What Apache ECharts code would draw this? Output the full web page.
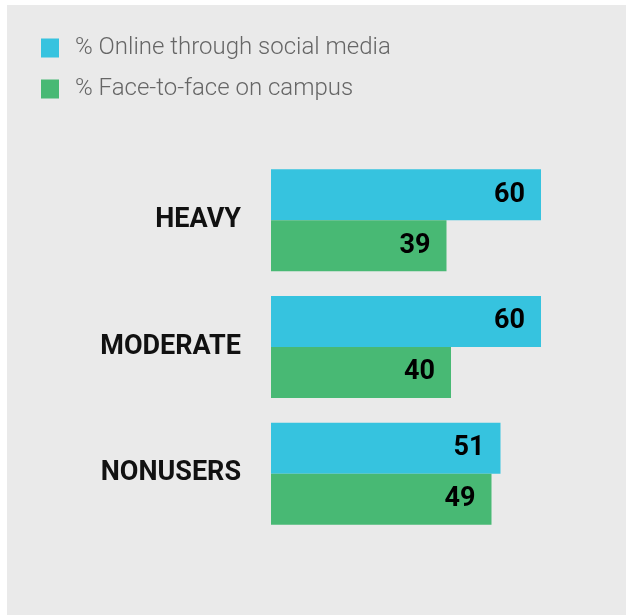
<!DOCTYPE html>
<html>
<head>
<meta charset="utf-8">
<script src="https://cdn.jsdelivr.net/npm/echarts@6/dist/echarts.min.js"></script>
<style>
  html, body { margin: 0; padding: 0; background: #fff; }
  #chart { width: 626px; height: 615px; }
</style>
</head>
<body>
<div id="chart"></div>
<script>
// user groups, top to bottom
const categories = ['HEAVY', 'MODERATE', 'NONUSERS'];
const seriesNames = ['% Online through social media', '% Face-to-face on campus'];
const onlineValues = [60, 60, 51];
const faceValues = [39, 40, 49];

const COLOR = {
    cyan: '#36c3df',
    green: '#48b974',
    panel: '#eaeaea',
    legendText: '#666'
};

const chart = echarts.init(document.getElementById('chart'));

const valueLabel = {
    show: true,
    position: 'insideRight',
    distance: 16,
    color: '#000',
    fontFamily: 'Roboto',
    fontWeight: 'bold',
    fontSize: 27
};

const option = {
    backgroundColor: '#fff',
    animation: false,
    graphic: [{
        type: 'rect',
        z: -10,
        shape: { x: 7, y: 5, width: 619, height: 610 },
        style: { fill: COLOR.panel }
    }],
    legend: {
        orient: 'vertical',
        left: 41,
        top: 36,
        padding: 0,
        itemWidth: 18,
        itemHeight: 19,
        itemGap: 17,
        icon: 'rect',
        data: seriesNames,
        textStyle: {
            color: COLOR.legendText,
            fontFamily: 'Roboto',
            fontWeight: 300,
            fontSize: 24,
            lineHeight: 19,
            padding: [0, 0, 0, 11]
        }
    },
    grid: {
        left: 271,
        top: 157,
        width: 315,
        height: 380
    },
    xAxis: {
        type: 'value',
        min: 0,
        max: 70,
        show: false,
        splitLine: { show: false }
    },
    yAxis: {
        type: 'category',
        inverse: true,
        data: categories,
        axisLine: { show: false },
        axisTick: { show: false },
        axisLabel: {
            margin: 30,
            color: '#111',
            fontFamily: 'Roboto',
            fontWeight: 'bold',
            fontSize: 27
        }
    },
    series: [
        {
            name: seriesNames[0],
            type: 'bar',
            data: onlineValues,
            color: COLOR.cyan,
            barWidth: 51,
            barGap: '0%',
            label: valueLabel
        },
        {
            name: seriesNames[1],
            type: 'bar',
            data: faceValues,
            color: COLOR.green,
            barWidth: 51,
            barGap: '0%',
            label: valueLabel
        }
    ]
};

chart.setOption(option);
</script>
</body>
</html>
